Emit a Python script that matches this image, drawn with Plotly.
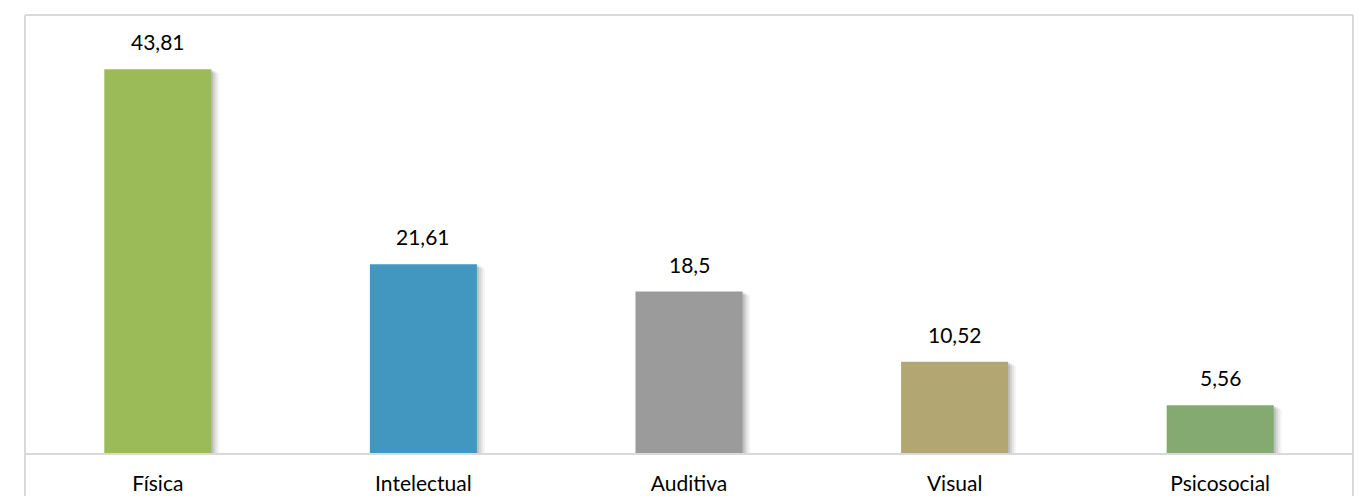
import plotly.graph_objects as go

categories = ["Física", "Intelectual", "Auditiva", "Visual", "Psicosocial"]
values = [43.81, 21.61, 18.5, 10.52, 5.56]
labels = ["43,81", "21,61", "18,5", "10,52", "5,56"]
colors = ["#9BBB59", "#4197BF", "#9B9B9B", "#B2A672", "#84AA72"]

W, H = 1363, 496
ml, mr, mt, mb = 25, 10, 15, 42
plot_w = W - ml - mr
plot_h = H - mt - mb
ymax = 50
px_x = len(categories) / plot_w      # data units per px in x
px_y = ymax / plot_h                 # data units per px in y
bw = 0.403

fig = go.Figure()

# soft drop shadow layers
for i, (dx, op) in enumerate([(2, 0.10), (4, 0.08), (6, 0.06), (8, 0.04)]):
    fig.add_trace(go.Bar(
        x=list(range(len(categories))), y=[v - dx * px_y * 0.5 for v in values],
        width=bw, offset=-bw / 2 + dx * px_x,
        marker=dict(color=f"rgba(0,0,0,{op})", line=dict(width=0)),
        hoverinfo="skip", showlegend=False,
    ))

fig.add_trace(go.Bar(
    x=list(range(len(categories))), y=values, width=bw, offset=-bw / 2,
    marker=dict(color=colors, line=dict(width=0)),
    showlegend=False,
))

for i, (v, t) in enumerate(zip(values, labels)):
    fig.add_annotation(x=i, y=v, text=t, showarrow=False, yanchor="bottom",
                       yshift=13, font=dict(size=21, color="#000000", family="Lato"))

# chart borders
line_col = "#D9D9D9"
fig.add_shape(type="line", xref="paper", yref="paper", x0=0, x1=0, y0=-1, y1=1,
              line=dict(color=line_col, width=2))
fig.add_shape(type="line", xref="paper", yref="paper", x0=1, x1=1, y0=-1, y1=1,
              line=dict(color=line_col, width=2))
fig.add_shape(type="line", xref="paper", yref="paper", x0=0, x1=1, y0=1, y1=1,
              line=dict(color=line_col, width=2))
fig.add_shape(type="line", xref="paper", yref="paper", x0=0, x1=1, y0=0, y1=0,
              line=dict(color=line_col, width=2))

fig.update_layout(
    width=W, height=H,
    margin=dict(l=ml, r=mr, t=mt, b=mb),
    paper_bgcolor="white", plot_bgcolor="white",
    barmode="overlay",
    font=dict(family="Lato", size=21, color="#000000"),
    xaxis=dict(range=[-0.5, len(categories) - 0.5], tickmode="array",
               tickvals=list(range(len(categories))), ticktext=categories,
               showgrid=False, zeroline=False, showline=False, ticks="",
               ticklabelstandoff=15, tickfont=dict(size=21), automargin=False),
    yaxis=dict(range=[0, ymax], showgrid=False, zeroline=False, showline=False,
               showticklabels=False, ticks="", automargin=False),
)

fig.write_html("out.html", config={"displayModeBar": False},
               post_script="document.body.style.margin='0';")
